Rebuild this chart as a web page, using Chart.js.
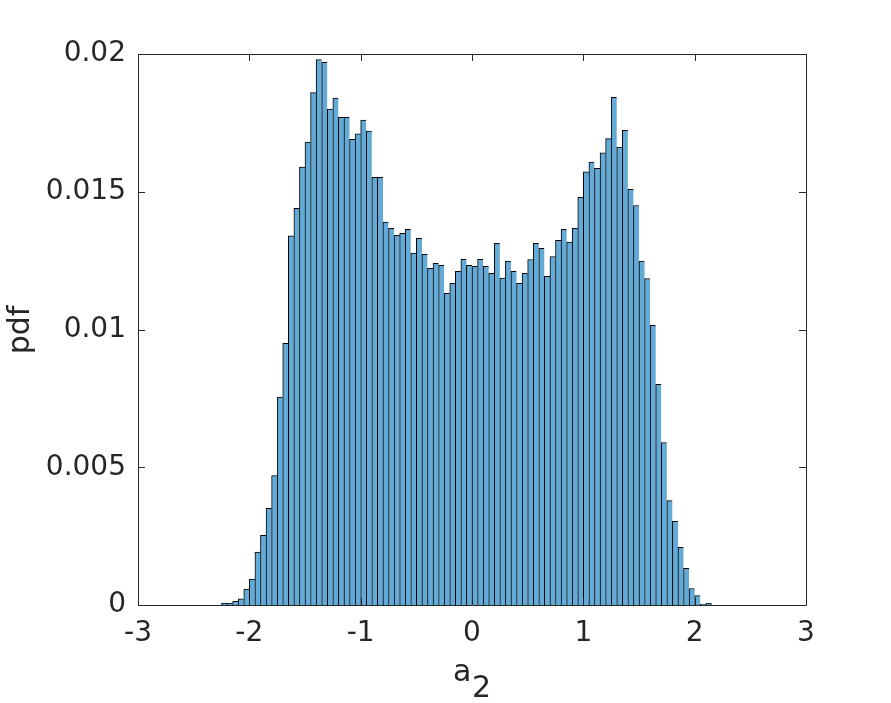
<!DOCTYPE html>
<html>
<head>
<meta charset="utf-8">
<script src="https://cdn.jsdelivr.net/npm/chart.js@4.4.1/dist/chart.umd.min.js"></script>
<style>
  html, body { margin: 0; padding: 0; background: #fff; }
  #wrap { width: 891px; height: 703px; }
</style>
</head>
<body>
<div id="wrap"><canvas id="histchart" width="891" height="703"></canvas></div>
<script>
// bin centres (bin width 0.05)
const binCenters = [
  -2.225, -2.175, -2.125, -2.075, -2.025, -1.975, -1.925, -1.875, -1.825, -1.775,
  -1.725, -1.675, -1.625, -1.575, -1.525, -1.475, -1.425, -1.375, -1.325, -1.275,
  -1.225, -1.175, -1.125, -1.075, -1.025, -0.975, -0.925, -0.875, -0.825, -0.775,
  -0.725, -0.675, -0.625, -0.575, -0.525, -0.475, -0.425, -0.375, -0.325, -0.275,
  -0.225, -0.175, -0.125, -0.075, -0.025, 0.025, 0.075, 0.125, 0.175, 0.225,
  0.275, 0.325, 0.375, 0.425, 0.475, 0.525, 0.575, 0.625, 0.675, 0.725,
  0.775, 0.825, 0.875, 0.925, 0.975, 1.025, 1.075, 1.125, 1.175, 1.225,
  1.275, 1.325, 1.375, 1.425, 1.475, 1.525, 1.575, 1.625, 1.675, 1.725,
  1.775, 1.825, 1.875, 1.925, 1.975, 2.025, 2.075, 2.125
];
// pdf values per bin
const pdfValues = [
  0.00007, 0.00007, 0.00013, 0.00022, 0.00058, 0.00094, 0.00192, 0.00253, 0.00351, 0.0047,
  0.00755, 0.0095, 0.0134, 0.0144, 0.0159, 0.0168, 0.0186, 0.0198, 0.0197, 0.0180,
  0.0184, 0.0177, 0.0177, 0.0169, 0.0171, 0.0176, 0.0172, 0.01552, 0.01552, 0.01390,
  0.01367, 0.01342, 0.01349, 0.01364, 0.01277, 0.01331, 0.01273, 0.01222, 0.01240, 0.01233,
  0.01131, 0.01168, 0.01211, 0.01255, 0.01233, 0.01229, 0.01255, 0.01229, 0.01204, 0.01313,
  0.01187, 0.01248, 0.01211, 0.01168, 0.01204, 0.01254, 0.01313, 0.01295, 0.01193, 0.01265,
  0.01324, 0.01364, 0.01317, 0.01367, 0.01480, 0.01572, 0.01608, 0.01585, 0.01641, 0.01693,
  0.01843, 0.01662, 0.01723, 0.01509, 0.01450, 0.01248, 0.01185, 0.01015, 0.00801, 0.00590,
  0.00379, 0.00304, 0.00209, 0.00133, 0.00060, 0.00034, 0.00003, 0.00006
];
const xTicks = [-3, -2, -1, 0, 1, 2, 3];
const yTicks = [0, 0.005, 0.01, 0.015, 0.02];
const xLabel = "a";
const xLabelSub = "2";
const yLabel = "pdf";

const textColor = "#262626";
const fontFamily = "'DejaVu Sans', sans-serif";

// box with inward ticks on all four sides + axis labels
const boxPlugin = {
  id: "matlabBox",
  afterDraw(chart) {
    const ctx = chart.ctx;
    const a = chart.chartArea;
    const xs = chart.scales.x, ys = chart.scales.y;
    const tl = 7;
    ctx.save();
    ctx.strokeStyle = textColor;
    ctx.lineWidth = 1;
    ctx.beginPath();
    ctx.rect(Math.round(a.left) + 0.5, Math.round(a.top) + 0.5,
             Math.round(a.right - a.left), Math.round(a.bottom - a.top));
    xTicks.forEach(v => {
      const px = Math.round(xs.getPixelForValue(v)) + 0.5;
      ctx.moveTo(px, a.bottom); ctx.lineTo(px, a.bottom - tl);
      ctx.moveTo(px, a.top); ctx.lineTo(px, a.top + tl);
    });
    yTicks.forEach(v => {
      const py = Math.round(ys.getPixelForValue(v)) + 0.5;
      ctx.moveTo(a.left, py); ctx.lineTo(a.left + tl, py);
      ctx.moveTo(a.right, py); ctx.lineTo(a.right - tl, py);
    });
    ctx.stroke();

    ctx.fillStyle = textColor;
    ctx.font = "30px " + fontFamily;
    ctx.textBaseline = "alphabetic";
    ctx.textAlign = "left";
    ctx.fillText(xLabel, 453, 681);
    ctx.fillText(xLabelSub, 472, 697);

    ctx.translate(29, 330);
    ctx.rotate(-Math.PI / 2);
    ctx.textAlign = "center";
    ctx.fillText(yLabel, 0, 0);
    ctx.restore();
  }
};

const chartEl = document.getElementById("histchart");
const histchart = new Chart(chartEl, {
  type: "bar",
  data: {
    datasets: [{
      label: "pdf",
      data: binCenters.map((c, i) => ({ x: c, y: pdfValues[i] })),
      backgroundColor: "#64AAD7",
      borderColor: "#000000",
      borderWidth: (c) => ({ top: 1, left: 1, bottom: 0,
                             right: c.dataIndex === pdfValues.length - 1 ? 1 : 0 }),
      borderSkipped: false,
      barPercentage: 1,
      categoryPercentage: 1
    }]
  },
  options: {
    responsive: false,
    animation: false,
    layout: { padding: { top: 54, right: 85, left: 0, bottom: 0 } },
    plugins: { legend: { display: false }, tooltip: { enabled: false } },
    scales: {
      x: {
        type: "linear",
        min: -3, max: 3,
        offset: false,
        grid: { display: false, drawTicks: false },
        border: { display: false },
        afterBuildTicks: (s) => { s.ticks = xTicks.map(v => ({ value: v })); },
        afterFit: (s) => { s.height = 98; },
        ticks: {
          color: textColor, padding: 12, maxRotation: 0, autoSkip: false,
          font: { family: fontFamily, size: 28 },
          callback: (v) => String(v)
        }
      },
      y: {
        min: 0, max: 0.02,
        grid: { display: false, drawTicks: false },
        border: { display: false },
        afterBuildTicks: (s) => { s.ticks = yTicks.map(v => ({ value: v })); },
        afterFit: (s) => { s.width = 138; },
        ticks: {
          color: textColor, padding: 12,
          font: { family: fontFamily, size: 28 },
          callback: (v) => String(+Number(v).toFixed(4))
        }
      }
    }
  },
  plugins: [boxPlugin]
});
</script>
</body>
</html>
